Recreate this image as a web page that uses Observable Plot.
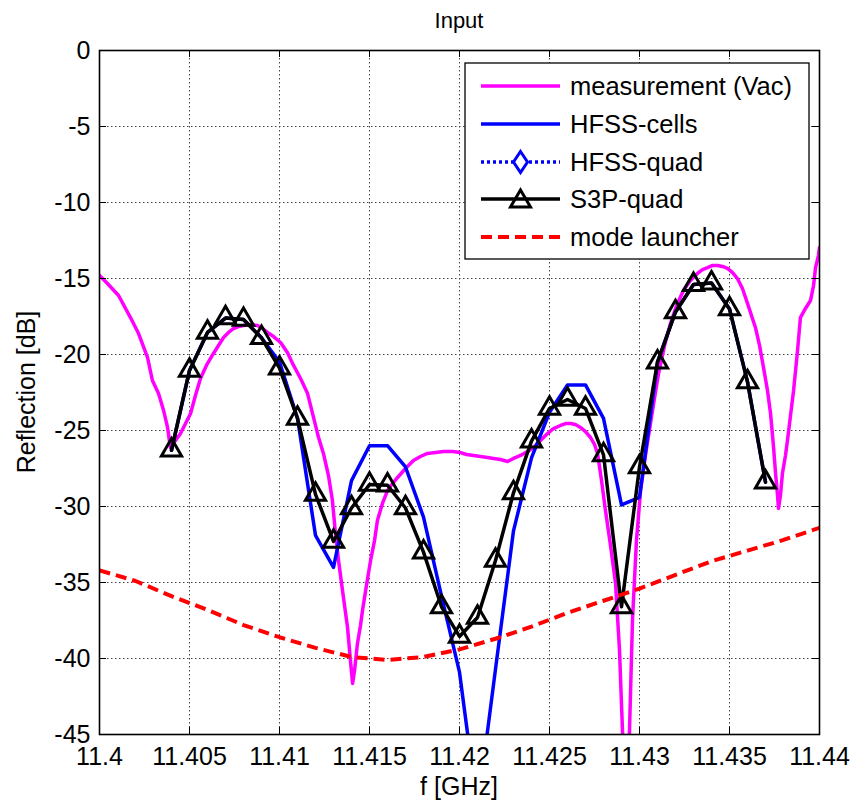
<!DOCTYPE html>
<html>
<head>
<meta charset="utf-8">
<script src="https://cdn.jsdelivr.net/npm/d3@7"></script>
<script src="https://cdn.jsdelivr.net/npm/@observablehq/plot@0.6"></script>
<style>
  html, body { margin: 0; padding: 0; background: #fff; }
</style>
</head>
<body>
<div id="chart"></div>
<script>
// Measured reflection (vacuum), GHz / dB
const measFreq = [
  11.4000, 11.40044, 11.40106, 11.40172, 11.40217, 11.40267, 11.40294, 11.40328, 11.40356, 11.40378,
  11.40394, 11.40422, 11.40450, 11.40478, 11.40506, 11.40533, 11.40561, 11.40594, 11.40633, 11.40661,
  11.40689, 11.40717, 11.40744, 11.40772, 11.40800, 11.40839, 11.40878, 11.40906, 11.40933, 11.40967,
  11.41006, 11.41044, 11.41078, 11.41117, 11.41156, 11.41189, 11.41217, 11.41244, 11.41272, 11.41294,
  11.41311, 11.41328, 11.41350, 11.41378, 11.41394, 11.41406, 11.41417, 11.41433, 11.41450, 11.41461,
  11.41483, 11.41506, 11.41528, 11.41544, 11.41572, 11.41600, 11.41628, 11.41656, 11.41700, 11.41744,
  11.41783, 11.41822, 11.41867, 11.41911, 11.41961, 11.42006, 11.42039, 11.42078, 11.42117, 11.42156,
  11.42189, 11.42228, 11.42267, 11.42300, 11.42339, 11.42378, 11.42411, 11.42450, 11.42489, 11.42522,
  11.42561, 11.42589, 11.42617, 11.42644, 11.42672, 11.42700, 11.42728, 11.42750, 11.42767, 11.42789,
  11.42811, 11.42839, 11.42867, 11.42889, 11.42906, 11.42922, 11.42944, 11.42961, 11.42983, 11.43006,
  11.43033, 11.43061, 11.43083, 11.43106, 11.43139, 11.43172, 11.43206, 11.43244, 11.43283, 11.43322,
  11.43350, 11.43378, 11.43406, 11.43433, 11.43461, 11.43489, 11.43517, 11.43544, 11.43572, 11.43600,
  11.43622, 11.43644, 11.43667, 11.43689, 11.43711, 11.43728, 11.43744, 11.43756, 11.43767, 11.43772,
  11.43783, 11.43794, 11.43811, 11.43822, 11.43839, 11.43856, 11.43878, 11.43894, 11.43922, 11.43950,
  11.43967, 11.43978, 11.43994, 11.44000
];
const measDb = [
  -14.80, -15.33, -16.12, -17.57, -18.62, -20.20, -21.71, -22.57, -23.68, -24.80,
  -26.12, -25.66, -25.20, -24.54, -23.88, -22.70, -21.58, -20.72, -19.93, -19.41,
  -18.88, -18.55, -18.29, -18.16, -18.09, -18.03, -18.09, -18.29, -18.55, -18.82,
  -19.21, -19.87, -20.72, -21.58, -22.57, -24.14, -25.46, -26.51, -27.96, -29.61,
  -31.78, -33.55, -35.53, -37.96, -40.13, -41.64, -40.79, -39.01, -37.83, -36.84,
  -35.20, -33.55, -32.24, -30.92, -29.80, -28.95, -28.49, -28.09, -27.50, -26.97,
  -26.71, -26.51, -26.45, -26.38, -26.38, -26.45, -26.58, -26.64, -26.71, -26.78,
  -26.84, -26.91, -27.04, -26.84, -26.64, -26.38, -26.12, -25.66, -25.20, -24.87,
  -24.67, -24.54, -24.54, -24.61, -24.80, -25.07, -25.46, -25.92, -26.51, -28.29,
  -30.26, -32.57, -35.07, -39.47, -44.93, -50.00, -44.93, -37.50, -32.24, -28.95,
  -26.64, -24.54, -22.89, -21.25, -19.41, -17.96, -16.78, -15.79, -15.13, -14.67,
  -14.41, -14.28, -14.14, -14.14, -14.21, -14.34, -14.61, -15.00, -15.66, -16.64,
  -17.43, -18.22, -19.41, -20.86, -22.37, -23.88, -25.99, -27.83, -29.28, -30.13,
  -29.28, -27.83, -26.64, -25.66, -24.01, -22.37, -19.74, -17.57, -16.97, -16.45,
  -15.46, -14.28, -13.49, -12.96
];

// Simulated frequency points (1 MHz step)
const simFreq = [
  11.404, 11.405, 11.406, 11.407, 11.408, 11.409, 11.410, 11.411, 11.412, 11.413,
  11.414, 11.415, 11.416, 11.417, 11.418, 11.419, 11.420, 11.421, 11.422, 11.423,
  11.424, 11.425, 11.426, 11.427, 11.428, 11.429, 11.430, 11.431, 11.432, 11.433,
  11.434, 11.435, 11.436, 11.437
];
const cellsDb = [
  -26.3, -21.05, -18.55, -17.6, -17.7, -18.9, -20.5, -24.2, -31.9, -34.0,
  -28.3, -26.0, -26.0, -27.4, -30.7, -35.9, -40.9, -49.9, -40.7, -31.6,
  -26.8, -23.8, -22.0, -22.0, -24.2, -29.9, -29.4, -20.5, -17.2, -15.4,
  -15.3, -17.0, -21.8, -28.4
];
const s3pDb = [
  -26.3, -21.05, -18.55, -17.6, -17.7, -18.9, -20.9, -24.2, -29.2, -32.3,
  -30.1, -28.55, -28.6, -30.1, -33.0, -36.6, -38.55, -37.3, -33.55, -29.1,
  -25.7, -23.55, -22.96, -23.55, -26.6, -36.6, -27.4, -20.5, -17.2, -15.4,
  -15.3, -17.0, -21.8, -28.4
];

// Mode launcher reflection
const launcherFreq = [
  11.400, 11.402, 11.404, 11.406, 11.408, 11.410, 11.412, 11.414, 11.416, 11.418,
  11.420, 11.422, 11.424, 11.426, 11.428, 11.430, 11.432, 11.434, 11.436, 11.438, 11.440
];
const launcherDb = [
  -34.2, -34.9, -35.9, -36.8, -37.8, -38.6, -39.3, -39.9, -40.1, -39.9,
  -39.4, -38.7, -37.9, -37.0, -36.2, -35.4, -34.5, -33.6, -32.9, -32.2, -31.4
];

const xTicks = [11.4, 11.405, 11.41, 11.415, 11.42, 11.425, 11.43, 11.435, 11.44];
const xTickLabels = ["11.4", "11.405", "11.41", "11.415", "11.42", "11.425", "11.43", "11.435", "11.44"];
const yTicks = [0, -5, -10, -15, -20, -25, -30, -35, -40, -45];
const yTickLabels = ["0", "-5", "-10", "-15", "-20", "-25", "-30", "-35", "-40", "-45"];

const seriesNames = ["measurement (Vac)", "HFSS-cells", "HFSS-quad", "S3P-quad", "mode launcher"];
const titleText = "Input";
const xLabel = "f [GHz]";
const yLabel = "Reflection [dB]";

const measurement = measFreq.map((f, i) => ({f, db: measDb[i]}));
const cells = simFreq.map((f, i) => ({f, db: cellsDb[i]}));
const s3p = simFreq.map((f, i) => ({f, db: s3pDb[i]}));
const launcher = launcherFreq.map((f, i) => ({f, db: launcherDb[i]}));

const W = 857, H = 804;
const mL = 99, mR = 38, mT = 50, mB = 70;
const frameW = W - mL - mR, frameH = H - mT - mB;
const tickLen = 7;
const font = "'Liberation Sans', Arial, Helvetica, sans-serif";

const gridStyle = {stroke: "#444", strokeWidth: 1, strokeDasharray: "1.5,2.5"};

const chart = Plot.plot({
  width: W,
  height: H,
  marginLeft: mL,
  marginRight: mR,
  marginTop: mT,
  marginBottom: mB,
  style: {fontFamily: font, fontSize: "25px", background: "white", color: "black", overflow: "visible"},
  x: {
    domain: [11.4, 11.44],
    ticks: xTicks,
    tickFormat: d => xTickLabels[xTicks.indexOf(d)],
    tickSize: 0,
    tickPadding: 13,
    label: null
  },
  y: {
    domain: [-45, 0],
    ticks: yTicks,
    tickFormat: d => yTickLabels[yTicks.indexOf(d)],
    tickSize: 0,
    tickPadding: 9,
    label: null
  },
  marks: [
    // dotted grid
    Plot.ruleX(xTicks, {x: d => d, ...gridStyle}),
    Plot.ruleY(yTicks, {y: d => d, ...gridStyle}),
    // data series
    Plot.line(measurement, {x: "f", y: "db", stroke: "#ff00ff", strokeWidth: 3.5, clip: true}),
    Plot.line(cells, {x: "f", y: "db", stroke: "#0000ff", strokeWidth: 3.5, clip: true}),
    Plot.line(s3p, {x: "f", y: "db", stroke: "#000000", strokeWidth: 3.5, clip: true}),
    Plot.dot(s3p, {x: "f", y: "db", symbol: "triangle", r: 7.5, stroke: "#000000", fill: "none", strokeWidth: 3, strokeLinejoin: "miter", clip: true}),
    Plot.line(launcher, {x: "f", y: "db", stroke: "#ff0000", strokeWidth: 4, strokeDasharray: "11,6", strokeLinecap: "butt", clip: true}),
    // inward ticks on all four sides
    Plot.tickX(xTicks, {x: d => d, insetTop: frameH - tickLen, stroke: "black", strokeWidth: 1}),
    Plot.tickX(xTicks, {x: d => d, insetBottom: frameH - tickLen, stroke: "black", strokeWidth: 1}),
    Plot.tickY(yTicks, {y: d => d, insetRight: frameW - tickLen, stroke: "black", strokeWidth: 1}),
    Plot.tickY(yTicks, {y: d => d, insetLeft: frameW - tickLen, stroke: "black", strokeWidth: 1}),
    Plot.frame({stroke: "black", strokeWidth: 1.6})
  ]
});

document.getElementById("chart").appendChild(chart);

const svg = d3.select(chart);

// title and axis labels
const cx = mL + frameW / 2;
svg.append("text")
  .attr("x", cx).attr("y", 20)
  .attr("text-anchor", "middle").attr("dominant-baseline", "central")
  .attr("font-family", font).attr("font-size", 22).attr("fill", "black")
  .text(titleText);
svg.append("text")
  .attr("x", cx).attr("y", 786)
  .attr("text-anchor", "middle").attr("dominant-baseline", "central")
  .attr("font-family", font).attr("font-size", 25).attr("fill", "black")
  .text(xLabel);
svg.append("text")
  .attr("transform", `translate(26,${mT + frameH / 2}) rotate(-90)`)
  .attr("text-anchor", "middle").attr("dominant-baseline", "central")
  .attr("font-family", font).attr("font-size", 25).attr("fill", "black")
  .text(yLabel);

// legend box
const lg = svg.append("g").attr("text-anchor", "start");
const lx = 465, ly = 63, lw = 344, lh = 196;
lg.append("rect")
  .attr("x", lx).attr("y", ly).attr("width", lw).attr("height", lh)
  .attr("fill", "white").attr("stroke", "black").attr("stroke-width", 1.3);

const rowY = [86, 124, 162, 199, 237];
const sx0 = 481, sx1 = 560, smid = (sx0 + sx1) / 2;
const styles = [
  {stroke: "#ff00ff", width: 3.5, dash: null},
  {stroke: "#0000ff", width: 3.5, dash: null},
  {stroke: "#0000ff", width: 3.5, dash: "3,3"},
  {stroke: "#000000", width: 3.5, dash: null},
  {stroke: "#ff0000", width: 4, dash: "11,6"}
];
seriesNames.forEach((name, i) => {
  const y = rowY[i], s = styles[i];
  const ln = lg.append("line")
    .attr("x1", sx0).attr("x2", sx1).attr("y1", y).attr("y2", y)
    .attr("stroke", s.stroke).attr("stroke-width", s.width);
  if (s.dash) ln.attr("stroke-dasharray", s.dash).attr("stroke-linecap", "butt");
  if (i === 2) {
    lg.append("path")
      .attr("d", `M${smid},${y - 10.5}L${smid + 7},${y}L${smid},${y + 10.5}L${smid - 7},${y}Z`)
      .attr("fill", "white").attr("stroke", "#0000ff").attr("stroke-width", 3).attr("stroke-linejoin", "miter");
  }
  if (i === 3) {
    lg.append("path")
      .attr("d", `M${smid},${y - 9}L${smid + 10},${y + 8}L${smid - 10},${y + 8}Z`)
      .attr("fill", "none").attr("stroke", "black").attr("stroke-width", 3).attr("stroke-linejoin", "miter");
  }
  lg.append("text")
    .attr("x", 570).attr("y", y)
    .attr("text-anchor", "start")
    .attr("dominant-baseline", "central")
    .attr("font-family", font).attr("font-size", 25.5).attr("fill", "black")
    .text(name);
});
</script>
</body>
</html>
